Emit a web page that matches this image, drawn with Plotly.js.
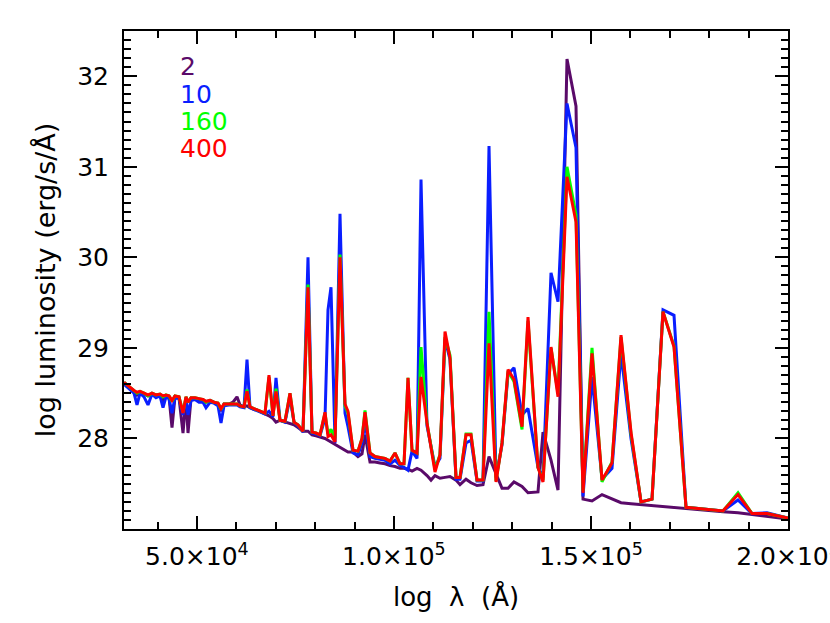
<!DOCTYPE html>
<html>
<head>
<meta charset="utf-8">
<script src="https://cdn.plot.ly/plotly-3.0.1.min.js"></script>
<style>html,body{margin:0;padding:0;background:#fff;}#chart{width:830px;height:623px;}</style>
</head>
<body>
<div id="chart"></div>
<script>
const wavelength = [31500,33023,34038,34799,35560,36575,37590,38606,39621,40636,41397,42158,42920,43681,44442,45457,46472,47234,47741,48503,49518,50533,51548,52309,53324,54339,55354,56116,56877,58146,59161,60176,60937,61952,62714,63475,64490,65505,66520,67282,68297,69312,70073,71088,72357,73626,74641,75656,76925,78194,79209,80224,81239,82508,83269,84030,85045,86314,87583,88344,89613,90882,91897,92659,93927,95196,96465,97734,99003,100272,101541,102556,103571,104586,105855,106870,108392,109407,110422,111691,112960,114229,115752,116767,118289,119558,121081,122603,124126,125902,127425,128948,130470,132500,134023,136560,137829,139859,141635,143919,146203,147980,150264,152802,155340,157624,160161,162699,165491,168282,171074,174119,183509,187315,190868,194674,200000];

const lum2 = [28.62,28.55,28.52,28.48,28.50,28.49,28.47,28.49,28.48,28.47,28.42,28.47,28.46,28.12,28.46,28.45,28.06,28.45,28.06,28.44,28.44,28.42,28.43,28.40,28.42,28.40,28.38,28.30,28.38,28.38,28.40,28.46,28.37,28.35,28.36,28.34,28.32,28.31,28.29,28.27,28.25,28.22,28.18,28.20,28.18,28.16,28.15,28.12,28.08,28.08,28.04,28.03,28.02,28.00,27.98,27.96,27.94,27.90,27.87,27.85,27.85,27.80,27.83,28.04,27.74,27.74,27.73,27.72,27.70,27.69,27.67,27.67,27.66,27.64,27.67,27.65,27.59,27.54,27.59,27.56,27.57,27.58,27.54,27.49,27.55,27.51,27.48,27.49,27.80,27.60,27.45,27.45,27.52,27.47,27.40,27.41,28.07,27.76,27.43,32.19,31.67,27.33,27.31,27.38,27.33,27.29,27.28,27.27,27.26,27.25,27.24,27.22,27.19,27.18,27.16,27.14,27.11];

const lum10 = [28.60,28.54,28.50,28.37,28.50,28.46,28.37,28.49,28.45,28.47,28.34,28.46,28.44,28.28,28.45,28.44,28.26,28.44,28.26,28.42,28.43,28.40,28.40,28.34,28.40,28.39,28.36,28.17,28.36,28.37,28.37,28.37,28.35,28.34,28.87,28.34,28.32,28.30,28.28,28.27,28.30,28.24,28.67,28.20,28.18,28.45,28.18,28.14,28.07,30.00,28.06,28.05,28.03,28.22,29.42,29.67,27.95,30.48,28.28,28.13,27.84,27.82,27.95,28.19,27.80,27.78,27.77,27.76,27.72,27.76,27.70,27.68,27.65,27.86,27.78,30.86,28.14,27.90,27.69,27.78,29.10,28.87,27.55,27.55,27.95,27.98,27.53,27.53,31.23,27.57,27.93,28.71,28.78,28.26,28.33,27.68,27.57,29.83,29.51,31.70,31.21,27.36,28.68,27.55,27.67,28.94,28.00,27.30,27.33,29.42,29.36,27.24,27.20,27.32,27.17,27.18,27.12];

const lum160 = [28.62,28.56,28.53,28.50,28.52,28.50,28.47,28.50,28.48,28.49,28.46,28.48,28.47,28.41,28.47,28.46,28.29,28.46,28.40,28.45,28.45,28.44,28.43,28.40,28.42,28.40,28.39,28.32,28.38,28.38,28.38,28.38,28.36,28.35,28.54,28.35,28.33,28.31,28.29,28.28,28.68,28.25,28.55,28.20,28.19,28.50,28.18,28.15,28.08,29.70,28.07,28.06,28.04,28.28,28.05,28.10,28.00,30.03,28.36,28.28,27.87,27.86,28.00,28.31,27.84,27.80,27.79,27.78,27.75,27.84,27.72,27.72,28.67,27.87,27.84,29.01,28.17,27.92,27.66,27.82,29.12,28.92,27.57,27.57,28.05,28.05,27.54,27.54,29.40,27.53,27.95,28.74,28.63,28.10,29.30,27.68,27.54,29.00,28.50,31.00,30.47,27.42,29.00,27.52,27.74,29.12,28.05,27.30,27.33,29.40,29.02,27.24,27.20,27.40,27.17,27.17,27.12];

const lum400 = [28.62,28.56,28.53,28.51,28.52,28.50,28.48,28.50,28.48,28.49,28.47,28.48,28.47,28.42,28.47,28.46,28.28,28.46,28.40,28.45,28.45,28.44,28.43,28.41,28.42,28.40,28.39,28.33,28.38,28.38,28.38,28.38,28.36,28.35,28.52,28.35,28.33,28.31,28.29,28.28,28.70,28.25,28.52,28.20,28.19,28.50,28.18,28.15,28.08,29.67,28.07,28.06,28.04,28.29,28.02,28.04,27.96,30.00,28.38,28.30,27.87,27.86,28.00,28.29,27.84,27.80,27.79,27.78,27.75,27.84,27.72,27.72,28.67,27.87,27.84,28.68,28.17,27.92,27.63,27.82,29.18,28.89,27.57,27.57,28.04,28.04,27.54,27.54,29.05,27.52,27.95,28.76,28.65,28.13,29.34,27.68,27.52,29.01,28.46,30.89,30.39,27.40,28.94,27.54,27.73,29.14,28.07,27.30,27.33,29.40,29.01,27.24,27.20,27.38,27.17,27.17,27.12];

const seriesNames = ['2','10','160','400'];
const seriesColors = ['#5a0a69','#0a1eff','#00ff00','#ff0000'];
const seriesValues = [lum2, lum10, lum160, lum400];

const xTickVals = [50000, 100000, 150000, 200000];
const xTickText = ['5.0×10<sup>4</sup>','1.0×10<sup>5</sup>','1.5×10<sup>5</sup>','2.0×10<sup>5</sup>'];
const yTickVals = [28, 29, 30, 31, 32];
const yTickText = ['28','29','30','31','32'];

const FONT = 'DejaVu Sans, Verdana, sans-serif';

const traces = seriesValues.map((ys, i) => ({
  type: 'scatter', mode: 'lines', x: wavelength, y: ys, name: seriesNames[i],
  line: {color: seriesColors[i], width: 3}, hoverinfo: 'skip'
}));

const annotations = seriesNames.map((n, i) => ({
  xref: 'paper', yref: 'paper', x: 0.081, y: [0.928, 0.873, 0.819, 0.765][i],
  xanchor: 'left', yanchor: 'middle', showarrow: false, text: n,
  font: {family: FONT, size: 25, color: seriesColors[i]}
}));

const axisCommon = {
  ticks: 'inside', tickwidth: 2, tickcolor: 'black', ticklen: 13,
  showline: true, linewidth: 2, linecolor: 'black', mirror: 'allticks',
  showgrid: false, zeroline: false, automargin: false,
  ticklabeloverflow: 'allow',
  tickfont: {family: FONT, size: 25, color: 'black'}
};

const layout = {
  width: 830, height: 623,
  margin: {l: 124, r: 42, t: 31, b: 94},
  paper_bgcolor: 'white', plot_bgcolor: 'white',
  showlegend: false,
  annotations: annotations,
  xaxis: Object.assign({}, axisCommon, {
    range: [31500, 200000], tickmode: 'array', tickvals: xTickVals, ticktext: xTickText,
    ticklabelstandoff: 4,
    minor: {tickmode: 'linear', tick0: 0, dtick: 10000, ticks: 'inside', ticklen: 7, tickwidth: 2, tickcolor: 'black', showgrid: false},
    title: {text: 'log  λ  (Å)', font: {family: FONT, size: 26, color: 'black'}, standoff: 18}
  }),
  yaxis: Object.assign({}, axisCommon, {
    range: [27, 32.5], tickmode: 'array', tickvals: yTickVals, ticktext: yTickText,
    ticklabelstandoff: 8,
    minor: {tickmode: 'linear', tick0: 0, dtick: 0.1, ticks: 'inside', ticklen: 7, tickwidth: 2, tickcolor: 'black', showgrid: false},
    title: {text: 'log luminosity (erg/s/Å)', font: {family: FONT, size: 27, color: 'black'}, standoff: 14}
  })
};

Plotly.newPlot('chart', traces, layout, {staticPlot: true, displayModeBar: false});
</script>
</body>
</html>
